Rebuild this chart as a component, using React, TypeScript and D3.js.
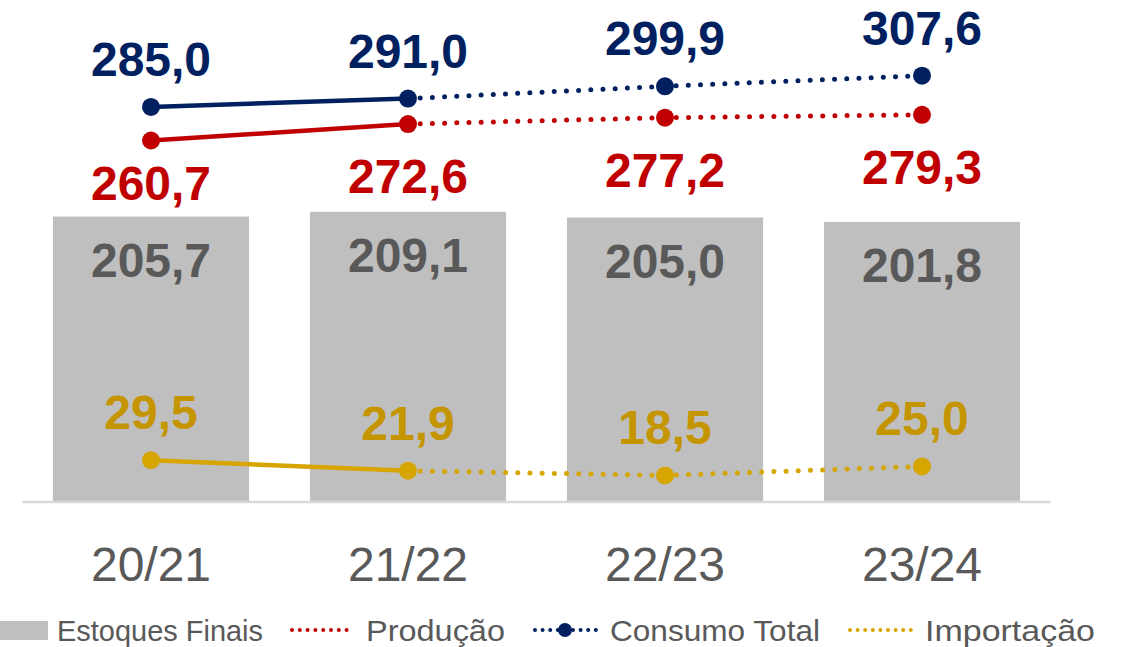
import React from "react";
import * as d3 from "d3";

const categories = ["20/21", "21/22", "22/23", "23/24"];
const estoquesFinais = [205.7, 209.1, 205.0, 201.8];
const producao = [260.7, 272.6, 277.2, 279.3];
const consumoTotal = [285.0, 291.0, 299.9, 307.6];
const importacao = [29.5, 21.9, 18.5, 25.0];
const solidUntil = 1; // last index of the solid (realized) segment

const W = 1127;
const H = 647;
const FONT = "'Liberation Sans', Arial, sans-serif";

const C_BAR = "#bfbfbf";
const C_BAR_LABEL = "#595959";
const C_NAVY = "#002060";
const C_RED = "#c00000";
const C_GOLD = "#d6a500";
const C_GOLD_LABEL = "#c59500";

const fmt = (v: number) => v.toFixed(1).replace(".", ",");

export default function App() {
  const x = d3
    .scaleBand<string>()
    .domain(categories)
    .range([22.5, 1050.5])
    .paddingInner(0.237)
    .paddingOuter(0.1185);
  const y = d3.scaleLinear().domain([0, 350]).range([501, 17]);
  const cx = (c: string) => (x(c) as number) + x.bandwidth() / 2;

  const line = d3
    .line<[number, number]>()
    .x((d) => d[0])
    .y((d) => d[1]);

  const series = [
    { name: "Consumo Total", values: consumoTotal, color: C_NAVY, labelColor: C_NAVY, pos: "above" },
    { name: "Produção", values: producao, color: C_RED, labelColor: C_RED, pos: "below" },
    { name: "Importação", values: importacao, color: C_GOLD, labelColor: C_GOLD_LABEL, pos: "above" },
  ];

  const pts = (vals: number[]) =>
    vals.map((v, i) => [cx(categories[i]), y(v)] as [number, number]);

  return (
    <svg
      width={W}
      height={H}
      style={{ position: "absolute", left: 0, top: 0, background: "#fff" }}
      fontFamily={FONT}
    >
      {/* bars */}
      {categories.map((c, i) => (
        <rect
          key={c}
          x={x(c)}
          y={y(estoquesFinais[i])}
          width={x.bandwidth()}
          height={y(0) - y(estoquesFinais[i])}
          fill={C_BAR}
        />
      ))}
      {/* baseline */}
      <line x1={22.5} x2={1050.5} y1={y(0) + 1} y2={y(0) + 1} stroke="#d9d9d9" strokeWidth={2.5} />
      {/* bar labels */}
      {categories.map((c, i) => (
        <text
          key={"bl" + c}
          x={cx(c)}
          y={y(estoquesFinais[i]) + 60}
          textAnchor="middle"
          fontSize={48}
          fontWeight="bold"
          fill={C_BAR_LABEL}
        >
          {fmt(estoquesFinais[i])}
        </text>
      ))}
      {/* lines */}
      {series.map((s) => {
        const p = pts(s.values);
        return (
          <g key={s.name}>
            <path
              d={line(p.slice(0, solidUntil + 1)) || ""}
              fill="none"
              stroke={s.color}
              strokeWidth={4.5}
            />
            <path
              d={line(p.slice(solidUntil)) || ""}
              fill="none"
              stroke={s.color}
              strokeWidth={5}
              strokeLinecap="round"
              strokeDasharray="0 12.2"
            />
            {p.map((q, i) => (
              <circle key={i} cx={q[0]} cy={q[1]} r={9} fill={s.color} />
            ))}
            {p.map((q, i) => {
              let ty: number;
              if (s.pos === "above") ty = q[1] - 31;
              else ty = Math.min(q[1] + 69, y(estoquesFinais[i]) - 17);
              return (
                <text
                  key={"t" + i}
                  x={q[0]}
                  y={ty}
                  textAnchor="middle"
                  fontSize={48}
                  fontWeight="bold"
                  fill={s.labelColor}
                >
                  {fmt(s.values[i])}
                </text>
              );
            })}
          </g>
        );
      })}
      {/* x axis labels */}
      {categories.map((c) => (
        <text
          key={"ax" + c}
          x={cx(c)}
          y={581}
          textAnchor="middle"
          fontSize={48}
          fill="#595959"
        >
          {c}
        </text>
      ))}
      {/* legend */}
      <g fontSize={29} fill="#595959">
        <rect x={0} y={621} width={48} height={19} fill={C_BAR} />
        <text x={57} y={641} textLength={206} lengthAdjust="spacingAndGlyphs">Estoques Finais</text>

        <line x1={292} x2={351} y1={630} y2={630} stroke={C_RED} strokeWidth={4} strokeLinecap="round" strokeDasharray="0 7.8" />
        <text x={366} y={641} textLength={139} lengthAdjust="spacingAndGlyphs">Produção</text>

        <line x1={535} x2={596} y1={630} y2={630} stroke={C_NAVY} strokeWidth={4} strokeLinecap="round" strokeDasharray="0 7.6" />
        <circle cx={565} cy={630} r={7} fill={C_NAVY} />
        <text x={610} y={641} textLength={210} lengthAdjust="spacingAndGlyphs">Consumo Total</text>

        <line x1={850} x2={911} y1={630} y2={630} stroke={C_GOLD} strokeWidth={4} strokeLinecap="round" strokeDasharray="0 7.6" />
        <text x={925} y={641} textLength={170} lengthAdjust="spacingAndGlyphs">Importação</text>
      </g>
    </svg>
  );
}
